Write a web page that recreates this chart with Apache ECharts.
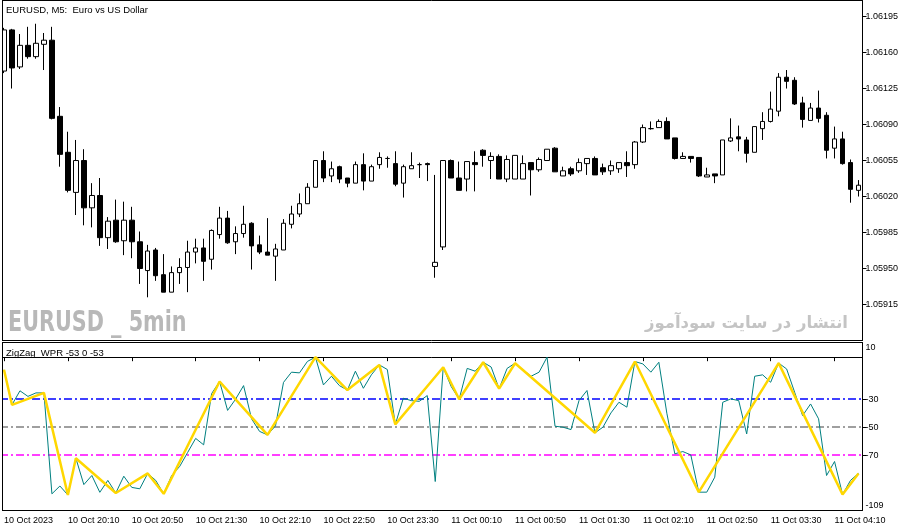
<!DOCTYPE html>
<html><head><meta charset="utf-8">
<script src="https://cdn.jsdelivr.net/npm/echarts@6/dist/echarts.min.js"></script>
<style>html,body{margin:0;padding:0;background:#fff}#c{width:915px;height:532px}</style>
</head><body><div id="c"></div>
<script>
const openP = [
1.06142,1.06182,1.06146,1.06167,1.06156,1.06168,1.06172,1.06098,1.06063,1.06024,
1.06055,1.06009,1.06021,1.05980,1.05997,1.05977,1.05997,1.05976,1.05948,1.05968,
1.05944,1.05927,1.05946,1.05951,1.05966,1.05970,1.05959,1.05983,1.05999,1.05976,
1.05984,1.05994,1.05973,1.05966,1.05962,1.05968,1.05993,1.06003,1.06013,1.06029,
1.06055,1.06040,1.06049,1.06038,1.06033,1.06051,1.06035,1.06051,1.06057,1.06052,
1.06033,1.06047,1.06051,1.06052,1.05952,1.05971,1.06055,1.06038,1.06037,1.06053,
1.06065,1.06055,1.06059,1.06037,1.06037,1.06037,1.06053,1.06046,1.06055,1.06067,
1.06040,1.06047,1.06045,1.06052,1.06057,1.06048,1.06045,1.06047,1.06053,1.06051,
1.06073,1.06086,1.06087,1.06093,1.06077,1.06057,1.06059,1.06058,1.06039,1.06042,
1.06041,1.06074,1.06078,1.06075,1.06063,1.06086,1.06093,1.06103,1.06136,1.06133,
1.06111,1.06094,1.06106,1.06099,1.06067,1.06076,1.06053,1.06026];
const highP = [
1.06184,1.06183,1.06178,1.06185,1.06188,1.06179,1.06185,1.06107,1.06083,1.06075,
1.06066,1.06033,1.06038,1.06000,1.06017,1.06015,1.06010,1.05986,1.05973,1.05970,
1.05964,1.05952,1.05960,1.05977,1.05979,1.05979,1.05988,1.06010,1.06006,1.05991,
1.06011,1.05995,1.05982,1.05999,1.05974,1.05998,1.06011,1.06023,1.06033,1.06055,
1.06064,1.06054,1.06050,1.06038,1.06054,1.06062,1.06051,1.06063,1.06059,1.06064,
1.06051,1.06063,1.06053,1.06053,1.06041,1.06055,1.06056,1.06054,1.06054,1.06064,
1.06066,1.06063,1.06061,1.06060,1.06060,1.06060,1.06053,1.06058,1.06066,1.06068,
1.06049,1.06049,1.06057,1.06057,1.06059,1.06052,1.06055,1.06053,1.06064,1.06074,
1.06090,1.06093,1.06095,1.06097,1.06077,1.06063,1.06059,1.06058,1.06048,1.06042,
1.06075,1.06096,1.06089,1.06078,1.06088,1.06102,1.06122,1.06140,1.06143,1.06136,
1.06117,1.06111,1.06123,1.06102,1.06088,1.06083,1.06056,1.06036];
const lowP = [
1.06140,1.06125,1.06144,1.06154,1.06154,1.06143,1.06095,1.06049,1.06024,1.06002,
1.05992,1.05990,1.05972,1.05969,1.05975,1.05963,1.05960,1.05935,1.05922,1.05938,
1.05927,1.05927,1.05935,1.05927,1.05955,1.05938,1.05949,1.05979,1.05974,1.05964,
1.05980,1.05949,1.05964,1.05963,1.05938,1.05968,1.05989,1.06000,1.06013,1.06029,
1.06034,1.06034,1.06033,1.06029,1.06033,1.06026,1.06035,1.06047,1.06048,1.06030,
1.06019,1.06047,1.06038,1.06035,1.05941,1.05968,1.06038,1.06026,1.06025,1.06025,
1.06049,1.06037,1.06037,1.06034,1.06037,1.06037,1.06021,1.06044,1.06055,1.06044,
1.06040,1.06040,1.06043,1.06041,1.06041,1.06041,1.06041,1.06043,1.06039,1.06047,
1.06072,1.06085,1.06087,1.06076,1.06056,1.06057,1.06053,1.06039,1.06039,1.06033,
1.06041,1.06073,1.06064,1.06053,1.06063,1.06075,1.06092,1.06098,1.06125,1.06109,
1.06087,1.06094,1.06092,1.06057,1.06057,1.06051,1.06014,1.06020];
const closeP = [
1.06182,1.06145,1.06167,1.06156,1.06169,1.06172,1.06096,1.06061,1.06026,1.06055,
1.06009,1.06021,1.05980,1.05996,1.05976,1.05997,1.05976,1.05950,1.05967,1.05943,
1.05927,1.05946,1.05951,1.05966,1.05970,1.05957,1.05987,1.05999,1.05975,1.05984,
1.05993,1.05972,1.05966,1.05963,1.05969,1.05994,1.06003,1.06013,1.06029,1.06055,
1.06038,1.06047,1.06037,1.06033,1.06051,1.06035,1.06049,1.06058,1.06057,1.06032,
1.06049,1.06050,1.06051,1.06051,1.05956,1.06055,1.06038,1.06026,1.06054,1.06051,
1.06060,1.06059,1.06037,1.06056,1.06060,1.06052,1.06046,1.06056,1.06066,1.06044,
1.06045,1.06042,1.06053,1.06057,1.06041,1.06044,1.06050,1.06053,1.06050,1.06073,
1.06087,1.06086,1.06093,1.06076,1.06057,1.06059,1.06057,1.06040,1.06041,1.06040,
1.06075,1.06077,1.06076,1.06062,1.06088,1.06093,1.06105,1.06136,1.06132,1.06110,
1.06095,1.06106,1.06096,1.06065,1.06076,1.06052,1.06027,1.06031];
const wprValues = [
-9,-34,-24,-28,-25.5,-25.5,-97.6,-92,-98.4,-72.2,
-91,-84.5,-96.5,-88,-97,-85,-93,-94,-83,-88,
-97.6,-84.5,-78,-68,-58,-62.6,-26,-17.4,-38,-30,
-20.3,-44,-53,-55.5,-49,-18,-10.7,-11.2,-3,0,
-19.8,-13.6,-20.3,-23.5,-10,-22.2,-12.6,-5.5,-8.8,-48,
-29.3,-31,-31.5,-27.4,-88.8,-7.2,-21,-30,-8,-10,
-3.6,-7,-22.5,-8,-4.3,-9,-13.6,-10.7,0,-49.3,
-50,-51.7,-31,-23.8,-54,-50,-39.8,-32.2,-35.7,-3.1,
-4.8,-10.7,-3.6,-40,-69,-67.4,-69.8,-96.4,-96.4,-85.7,
-32.2,-29.8,-31,-54.8,-13.6,-12.6,-17.9,-4.2,-8.4,-25,
-41.7,-33.4,-44,-84.5,-74.5,-98,-88,-83];
const zigzagBars = [0,1,5,8,9,14,18,20,27,33,39,43,47,49,55,57,60,62,64,74,79,87,97,105,107];
const priceTicks = [1.05915,1.05950,1.05985,1.06020,1.06055,1.06090,1.06125,1.06160,1.06195];
const wprTicks = [-109,-70,-50,-30,10];
// level lines, listed from the lowest to the highest
const levelValues = [-70,-50,-30];
const levelColors = ['#FF00FF','#808080','#0000FF'];
const timeLabels = ['10 Oct 2023','10 Oct 20:10','10 Oct 20:50','10 Oct 21:30','10 Oct 22:10','10 Oct 22:50','10 Oct 23:30','11 Oct 00:10','11 Oct 00:50','11 Oct 01:30','11 Oct 02:10','11 Oct 02:50','11 Oct 03:30','11 Oct 04:10'];

const cats = openP.map((_, i) => String(i));
const candleData = openP.map((o, i) => [o, closeP[i], lowP[i], highP[i]]);
const zigzagData = wprValues.map((v, i) => zigzagBars.indexOf(i) >= 0 ? v : null);

const FONT = '"Liberation Sans", Arial, sans-serif';

const chart = echarts.init(document.getElementById('c'), null, {renderer: 'canvas'});
chart.setOption({
  animation: false,
  backgroundColor: '#ffffff',
  grid: [
    {left: -2, width: 864.5, top: 0.5, height: 340, show: true, borderColor: '#000', borderWidth: 1, backgroundColor: 'transparent'},
    {left: -2, width: 864.5, top: 342.5, height: 168, show: true, borderColor: '#000', borderWidth: 1, backgroundColor: 'transparent'}
  ],
  xAxis: [
    {type: 'category', gridIndex: 0, data: cats, boundaryGap: true,
     axisLine: {show: false}, axisTick: {show: false}, axisLabel: {show: false}, splitLine: {show: false}},
    {type: 'category', gridIndex: 1, data: cats, boundaryGap: true,
     axisLine: {show: true, lineStyle: {color: '#000', width: 1}},
     axisTick: {show: true, alignWithLabel: true, interval: 7, length: 4, lineStyle: {color: '#000'}},
     axisLabel: {interval: 7, align: 'left', fontSize: 9, color: '#000', margin: 6, fontFamily: FONT,
       formatter: (v, i) => (i % 8 === 0 ? (timeLabels[i / 8] || '') : '')},
     splitLine: {show: false}}
  ],
  yAxis: [
    {type: 'value', gridIndex: 0, position: 'right', min: 1.05880, max: 1.062106,
     axisLine: {show: true, lineStyle: {color: '#000'}},
     axisTick: {show: true, length: 4, customValues: priceTicks, lineStyle: {color: '#000'}},
     axisLabel: {customValues: priceTicks, formatter: v => v.toFixed(5), fontSize: 9, color: '#000', margin: 3, fontFamily: FONT},
     splitLine: {show: false}},
    {type: 'value', gridIndex: 1, position: 'right', min: -109.5, max: 10.5,
     axisLine: {show: true, lineStyle: {color: '#000'}},
     axisTick: {show: true, length: 4, customValues: levelValues, lineStyle: {color: '#000'}},
     axisLabel: {customValues: wprTicks, fontSize: 9, color: '#000', margin: 3, fontFamily: FONT,
       verticalAlignMaxLabel: 'top', verticalAlignMinLabel: 'bottom'},
     splitLine: {show: true, lineStyle: {color: levelColors, width: 1.5, type: [8, 3, 2, 3]}}}
  ],
  series: [
    {type: 'candlestick', xAxisIndex: 0, yAxisIndex: 0, data: candleData, barWidth: 5,
     itemStyle: {color: '#ffffff', color0: '#000000', borderColor: '#000000', borderColor0: '#000000', borderColorDoji: '#000000', borderWidth: 1}},
    {type: 'line', name: 'WPR', xAxisIndex: 1, yAxisIndex: 1, data: wprValues, symbol: 'none', showSymbol: false,
     lineStyle: {color: '#008080', width: 1}, z: 3},
    {type: 'line', name: 'ZigZag', xAxisIndex: 1, yAxisIndex: 1, data: zigzagData, connectNulls: true,
     symbol: 'none', showSymbol: false, lineStyle: {color: '#FFD700', width: 2.5}, z: 4}
  ],
  graphic: [
    {type: 'rect', shape: {x: 0, y: 0, width: 2, height: 512}, style: {fill: '#fff'}, z: 50, silent: true},
    {type: 'line', shape: {x1: 2.5, y1: 0, x2: 2.5, y2: 341}, style: {stroke: '#000', lineWidth: 1}, z: 51, silent: true},
    {type: 'line', shape: {x1: 2.5, y1: 342, x2: 2.5, y2: 511}, style: {stroke: '#000', lineWidth: 1}, z: 51, silent: true},
    {type: 'text', x: 6, y: 5, z: 60, style: {text: 'EURUSD, M5:  Euro vs US Dollar', fill: '#000', font: '9.5px "Liberation Sans", Arial, sans-serif', textVerticalAlign: 'top', verticalAlign: 'top'}},
    {type: 'text', x: 6, y: 348, z: 60, style: {text: 'ZigZag_WPR -53 0 -53', fill: '#000', font: '9.5px "Liberation Sans", Arial, sans-serif', textVerticalAlign: 'top', verticalAlign: 'top'}},
    {type: 'text', x: 8, y: 310, scaleX: 0.74, z: 1, style: {text: 'EURUSD _ 5min', fill: '#B8B8B8', font: 'bold 28px "DejaVu Sans", sans-serif', textVerticalAlign: 'top', verticalAlign: 'top'}},
    {type: 'text', x: 848, y: 315, z: 1, style: {text: 'انتشار در سایت سودآموز', fill: '#C4C4C4', font: 'bold 16.5px "DejaVu Sans", sans-serif', textAlign: 'right', align: 'right', textVerticalAlign: 'top', verticalAlign: 'top'}}
  ]
});
</script></body></html>
